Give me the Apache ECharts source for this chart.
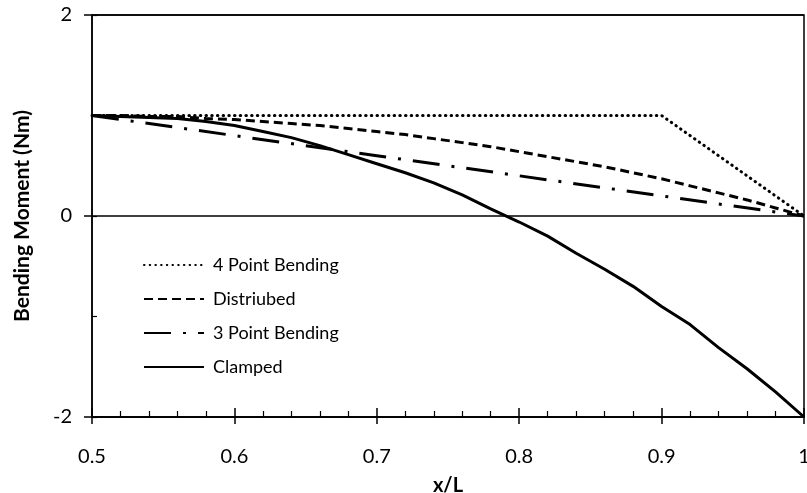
<!DOCTYPE html>
<html>
<head>
<meta charset="utf-8">
<script src="https://cdn.jsdelivr.net/npm/echarts@6/dist/echarts.min.js"></script>
<style>
  html, body { margin: 0; padding: 0; background: #fff; }
  #chart { width: 807px; height: 493px; }
</style>
</head>
<body>
<div id="chart"></div>
<script>
// x/L positions
var xs = [0.50, 0.52, 0.54, 0.56, 0.58, 0.60, 0.62, 0.64, 0.66, 0.68, 0.70, 0.72, 0.74,
          0.76, 0.78, 0.80, 0.82, 0.84, 0.86, 0.88, 0.90, 0.92, 0.94, 0.96, 0.98, 1.00];

var clamped = [1.00, 0.99, 0.98, 0.97, 0.94, 0.90, 0.84, 0.78, 0.70, 0.61, 0.52, 0.43, 0.33,
               0.21, 0.07, -0.06, -0.20, -0.37, -0.53, -0.70, -0.90, -1.08, -1.31, -1.52, -1.75, -2.00];

var distributed = [1.00, 1.00, 0.99, 0.99, 0.97, 0.96, 0.94, 0.92, 0.90, 0.87, 0.84, 0.81, 0.77,
                   0.73, 0.69, 0.64, 0.59, 0.54, 0.49, 0.43, 0.37, 0.30, 0.23, 0.16, 0.08, 0.00];

var threePointX = [0.5, 0.6, 0.7, 0.8, 0.9, 1.0];
var threePoint = [1.0, 0.8, 0.6, 0.4, 0.2, 0.0];

var fourPointX = [0.5, 0.9, 1.0];
var fourPoint = [1.0, 1.0, 0.0];

var names = ['4 Point Bending', 'Distriubed', '3 Point Bending', 'Clamped'];

function pairs(x, y) {
    return x.map(function (v, i) { return [v, y[i]]; });
}

var font = 'Lato, "Open Sans", sans-serif';
var gridBox = { left: 92, right: 3, top: 15, bottom: 76, outerBoundsMode: 'none', containLabel: false };

var chart = echarts.init(document.getElementById('chart'));
chart.setOption({
    animation: false,
    textStyle: { fontFamily: font, color: '#000' },
    grid: [
        Object.assign({ show: true, borderColor: '#000', borderWidth: 1.5, backgroundColor: '#fff' }, gridBox),
        Object.assign({}, gridBox)
    ],
    legend: {
        orient: 'vertical',
        left: 143,
        top: 255,
        padding: 0,
        itemWidth: 60,
        itemHeight: 14,
        itemGap: 14,
        data: names,
        itemStyle: { opacity: 0 },
        textStyle: { fontFamily: font, fontSize: 18, color: '#000', lineHeight: 20, padding: [0, 0, 0, 4] }
    },
    xAxis: [
        {
            // main axis with labels, major ticks pointing out
            gridIndex: 0,
            type: 'value',
            min: 0.5,
            max: 1,
            interval: 0.1,
            name: 'x/L',
            nameLocation: 'middle',
            nameGap: 59,
            nameTextStyle: { fontFamily: font, fontSize: 20, fontWeight: 'bold', color: '#000' },
            axisLine: { onZero: false, lineStyle: { color: '#000', width: 1.5 } },
            axisTick: { show: true, length: 7, lineStyle: { color: '#000', width: 1.5 } },
            axisLabel: { margin: 30, fontSize: 20, color: '#000', fontFamily: font },
            splitLine: { show: false }
        },
        {
            // inside ticks (major + minor)
            gridIndex: 1,
            type: 'value',
            min: 0.5,
            max: 1,
            interval: 0.1,
            axisLine: { show: false, onZero: false },
            axisTick: { show: true, inside: true, length: 9, lineStyle: { color: '#000', width: 1.5 } },
            minorTick: { show: true, splitNumber: 5, length: 6, lineStyle: { color: '#000', width: 1.2 } },
            axisLabel: { show: false },
            splitLine: { show: false }
        }
    ],
    yAxis: [
        {
            gridIndex: 0,
            type: 'value',
            min: -2,
            max: 2,
            interval: 2,
            name: 'Bending Moment (Nm)',
            nameLocation: 'middle',
            nameGap: 59,
            nameTextStyle: { fontFamily: font, fontSize: 21, fontWeight: 'bold', color: '#000' },
            axisLine: { show: true, onZero: false, lineStyle: { color: '#000', width: 1.5 } },
            axisTick: { show: true, length: 8, lineStyle: { color: '#000', width: 1.5 } },
            axisLabel: { margin: 20, fontSize: 20, color: '#000', fontFamily: font },
            splitLine: { show: true, lineStyle: { color: '#000', width: 1.5 } }
        },
        {
            gridIndex: 1,
            type: 'value',
            min: -2,
            max: 2,
            interval: 1,
            axisLine: { show: false, onZero: false },
            axisTick: { show: true, inside: true, length: 5, lineStyle: { color: '#000', width: 1.2 } },
            axisLabel: { show: false },
            splitLine: { show: false }
        }
    ],
    series: [
        {
            name: names[0],
            type: 'line',
            symbol: 'none',
            data: pairs(fourPointX, fourPoint),
            lineStyle: { color: '#000', width: 3, type: [0.5, 5.2], cap: 'round' },
            itemStyle: { color: '#000' },
            z: 3
        },
        {
            name: names[1],
            type: 'line',
            symbol: 'none',
            data: pairs(xs, distributed),
            lineStyle: { color: '#000', width: 3, type: [9, 5] },
            itemStyle: { color: '#000' },
            z: 3
        },
        {
            name: names[2],
            type: 'line',
            symbol: 'none',
            data: pairs(threePointX, threePoint),
            lineStyle: { color: '#000', width: 3, type: [27, 12, 3, 12] },
            itemStyle: { color: '#000' },
            z: 3
        },
        {
            name: names[3],
            type: 'line',
            symbol: 'none',
            data: pairs(xs, clamped),
            lineStyle: { color: '#000', width: 3 },
            itemStyle: { color: '#000' },
            z: 3
        }
    ]
});
</script>
</body>
</html>
